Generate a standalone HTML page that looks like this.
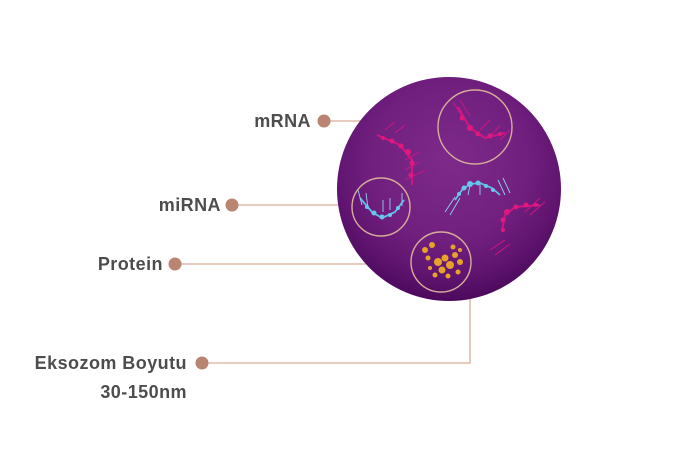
<!DOCTYPE html>
<html><head><meta charset="utf-8"><style>
html,body{margin:0;padding:0;background:#fff;}
svg{display:block}
text{font-family:"Liberation Sans",sans-serif;font-weight:bold;fill:#4d4d4d;font-size:18px;letter-spacing:0.45px}
</style></head><body>
<svg width="690" height="473" viewBox="0 0 690 473" xmlns="http://www.w3.org/2000/svg">
<defs>
<radialGradient id="sg" cx="0.5" cy="0.38" r="0.62">
<stop offset="0" stop-color="#7d2a8b"/>
<stop offset="0.55" stop-color="#72207f"/>
<stop offset="0.82" stop-color="#601470"/>
<stop offset="1" stop-color="#4c0a5c"/>
</radialGradient>
</defs>
<g stroke="#d7ad98" stroke-width="1.3" fill="none">
<line x1="324" y1="121" x2="438" y2="121"/>
<line x1="232" y1="205" x2="353" y2="205"/>
<line x1="175" y1="264" x2="411" y2="264"/>
<polyline points="202,363 470,363 470,292"/>
</g>
<circle cx="449" cy="189" r="112" fill="url(#sg)"/>
<g stroke="#d4157f" stroke-width="1.2" fill="none">
<path d="M458 107 L470 128 L485 138 L505 133" stroke-width="2"/>
<path d="M377 135 L400 145 L412 160 L412 185" stroke-width="2"/>
<path d="M502 230 L505 215 L515 207 L540 205" stroke-width="2"/>
<g stroke-width="0.9">
<line x1="453" y1="102" x2="463" y2="118"/><line x1="460" y1="100" x2="470" y2="116"/>
<line x1="480" y1="130" x2="490" y2="120"/><line x1="490" y1="136" x2="500" y2="126"/><line x1="500" y1="140" x2="510" y2="130"/>
<line x1="385" y1="130" x2="395" y2="122"/><line x1="395" y1="133" x2="405" y2="125"/>
<line x1="405" y1="160" x2="420" y2="152"/><line x1="405" y1="170" x2="420" y2="162"/><line x1="405" y1="180" x2="425" y2="170"/>
<line x1="490" y1="250" x2="505" y2="240"/><line x1="495" y1="255" x2="510" y2="244"/>
<line x1="525" y1="212" x2="540" y2="198"/><line x1="530" y1="215" x2="545" y2="202"/>
</g>
</g>
<g fill="#e0197f">
<circle cx="462" cy="118" r="2.5"/><circle cx="470" cy="128" r="3"/><circle cx="478" cy="134" r="2.5"/><circle cx="490" cy="136" r="2.5"/><circle cx="500" cy="134" r="2"/>
<circle cx="383" cy="138" r="2"/><circle cx="392" cy="141" r="2.5"/><circle cx="401" cy="146" r="2.5"/><circle cx="408" cy="152" r="3"/><circle cx="412" cy="163" r="2.5"/><circle cx="411" cy="175" r="2.5"/>
<circle cx="503" cy="230" r="2"/><circle cx="503" cy="220" r="2.5"/><circle cx="507" cy="212" r="3"/><circle cx="516" cy="207" r="2.5"/><circle cx="526" cy="205" r="2.5"/><circle cx="536" cy="205" r="2"/>
</g>
<g stroke="#8fd0f0" stroke-width="0.9" fill="none">
<path d="M360 198 L372 212 L382 218 L395 212 L404 200" stroke-width="1.8" stroke="#5ec0ea"/>
<line x1="358" y1="190" x2="362" y2="205"/><line x1="366" y1="193" x2="368" y2="208"/><line x1="383" y1="200" x2="383" y2="212"/><line x1="390" y1="198" x2="390" y2="210"/><line x1="402" y1="193" x2="402" y2="206"/>
<path d="M455 200 L462 190 L470 184 L480 183 L492 188 L500 195" stroke-width="1.8" stroke="#5ec0ea"/>
<line x1="445" y1="212" x2="455" y2="197"/><line x1="450" y1="215" x2="460" y2="198"/><line x1="468" y1="195" x2="470" y2="185"/><line x1="480" y1="195" x2="480" y2="184"/><line x1="498" y1="180" x2="505" y2="195"/><line x1="503" y1="178" x2="510" y2="193"/>
</g>
<g fill="#6ac6ee">
<circle cx="367" cy="207" r="2"/><circle cx="374" cy="213" r="2.5"/><circle cx="382" cy="217" r="2.5"/><circle cx="390" cy="215" r="2"/><circle cx="398" cy="208" r="2"/>
<circle cx="459" cy="194" r="2"/><circle cx="464" cy="188" r="2.5"/><circle cx="470" cy="184" r="3"/><circle cx="478" cy="183" r="2.5"/><circle cx="486" cy="186" r="2"/><circle cx="493" cy="190" r="2"/>
</g>
<g fill="#e8a22a">
<circle cx="425" cy="250" r="3"/><circle cx="432" cy="245" r="3"/><circle cx="428" cy="258" r="2.5"/><circle cx="438" cy="262" r="4"/><circle cx="445" cy="258" r="3.5"/><circle cx="450" cy="265" r="4"/><circle cx="442" cy="270" r="3.5"/><circle cx="455" cy="255" r="3"/><circle cx="453" cy="247" r="2.5"/><circle cx="460" cy="262" r="3"/><circle cx="435" cy="275" r="2.5"/><circle cx="448" cy="276" r="2.5"/><circle cx="458" cy="272" r="2.5"/><circle cx="430" cy="268" r="2"/><circle cx="460" cy="250" r="2"/>
</g>
<g fill="none" stroke="#d7ad98" stroke-width="1.4">
<circle cx="475" cy="127" r="37"/>
<circle cx="381" cy="207" r="29"/>
<circle cx="441" cy="262" r="30"/>
</g>
<g fill="#b98570">
<circle cx="324" cy="121" r="6.5"/>
<circle cx="232" cy="205" r="6.5"/>
<circle cx="175" cy="264" r="6.5"/>
<circle cx="202" cy="363" r="6.5"/>
</g>
<g text-anchor="end">
<text x="311" y="127">mRNA</text>
<text x="221" y="211">miRNA</text>
<text x="163" y="270">Protein</text>
<text x="187" y="369">Eksozom Boyutu</text>
<text x="187" y="398">30-150nm</text>
</g>
</svg>
</body></html>
